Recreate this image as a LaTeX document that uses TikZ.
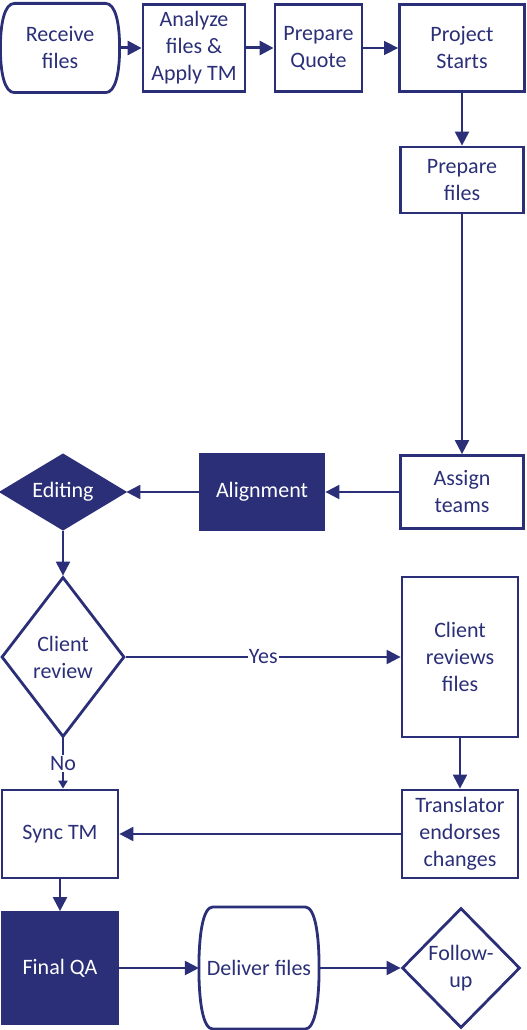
\documentclass[tikz,border=0pt]{standalone}
\usepackage{fontspec}
\setmainfont{Carlito}
\usetikzlibrary{positioning, shapes.geometric, arrows.meta, calc}
\definecolor{navy}{RGB}{43,47,119}
% outline of a terminator drawn round a plain node
\newcommand{\termoutline}[1]{\draw[-,line width=2.8pt]
  ([xshift=14pt]#1.north west) -- ([xshift=-14pt]#1.north east)
  .. controls ([xshift=-4pt]#1.north east) and ($(#1.east)!0.55!(#1.north east)$) .. (#1.east)
  .. controls ($(#1.east)!0.55!(#1.south east)$) and ([xshift=-4pt]#1.south east) .. ([xshift=-14pt]#1.south east)
  -- ([xshift=14pt]#1.south west)
  .. controls ([xshift=4pt]#1.south west) and ($(#1.west)!0.55!(#1.south west)$) .. (#1.west)
  .. controls ($(#1.west)!0.55!(#1.north west)$) and ([xshift=4pt]#1.north west) .. cycle;}

\begin{document}
\begin{tikzpicture}[x=1pt,y=-1pt,->,>={Triangle[length=14pt,width=14pt]},line width=2.2pt,color=navy,
  font=\fontsize{22}{27}\selectfont,
  box/.style={draw, rectangle, line width=2.8pt, align=center, inner sep=0pt},
  dark/.style={box, fill=navy, text=white},
  term/.style={rectangle, align=center, inner sep=0pt},
  decision/.style={draw, diamond, line width=2.8pt, align=center, inner sep=0pt},
  thickarrow/.style={line width=3pt},
  thinarrow/.style={line width=1.5pt},
  ]
  \useasboundingbox (0,0) rectangle (527,1030);

  % top row
  \node[term, minimum width=117pt, minimum height=87pt] (recv) at (60,48) {Receive\\files};
  \node[box, minimum width=102pt, minimum height=87pt] (anl) at (194,48) {Analyze\\files \&\\Apply TM};
  \node[box, minimum width=87pt, minimum height=87pt] (quote) at (318.5,48) {Prepare\\Quote};
  \node[box, minimum width=125pt, minimum height=87pt] (start) at (462,48) {Project\\Starts};

  % right column
  \node[box, minimum width=123pt, minimum height=66pt] (prep) at (462,180) {Prepare\\files};
  \node[box, minimum width=123pt, minimum height=73pt] (assign) at (462,492) {Assign\\teams};
  \node[dark, minimum width=124pt, minimum height=75pt] (align) at (262,492) {Alignment};
  \node[decision, fill=navy, text=white, aspect=2, minimum width=124pt, minimum height=75pt] (edit) at (63,492) {Editing};

  % review loop
  \node[decision, minimum width=123pt, minimum height=160pt] (review) at (63,657) {Client\\review};
  \node[box, minimum width=116pt, minimum height=160pt] (creview) at (460,657) {Client\\reviews\\files};
  \node[box, minimum width=116pt, minimum height=88pt] (endorse) at (460,834) {Translator\\endorses\\changes};
  \node[box, minimum width=116pt, minimum height=88pt] (sync) at (60,834) {Sync TM};

  % bottom row
  \node[dark, minimum width=116pt, minimum height=111pt] (qa) at (60,968) {Final QA};
  \node[term, minimum width=118pt, minimum height=120pt] (deliver) at (259,968) {Deliver files};
  \node[decision, minimum width=118pt, minimum height=120pt] (follow) at (461,968) {Follow-\\up};

  \termoutline{recv}
  \termoutline{deliver}

  \path
    (recv) edge[thickarrow] (anl)
    (anl) edge[thickarrow] (quote)
    (quote) edge[thinarrow] (start)
    (start) edge (prep)
    (prep) edge (assign)
    (assign) edge (align)
    (align) edge (edit)
    (edit) edge (review)
    (review) edge node[fill=white, inner sep=1pt] {Yes} (creview)
    (creview) edge (endorse)
    (endorse) edge (sync)
    (sync) edge (qa)
    (qa) edge (deliver)
    (deliver) edge (follow);
  \draw[>={Triangle[length=8pt,width=9pt]}] (review.south) -- node[fill=white, inner sep=1pt] {No} (review.south |- sync.north);
\end{tikzpicture}
\end{document}
